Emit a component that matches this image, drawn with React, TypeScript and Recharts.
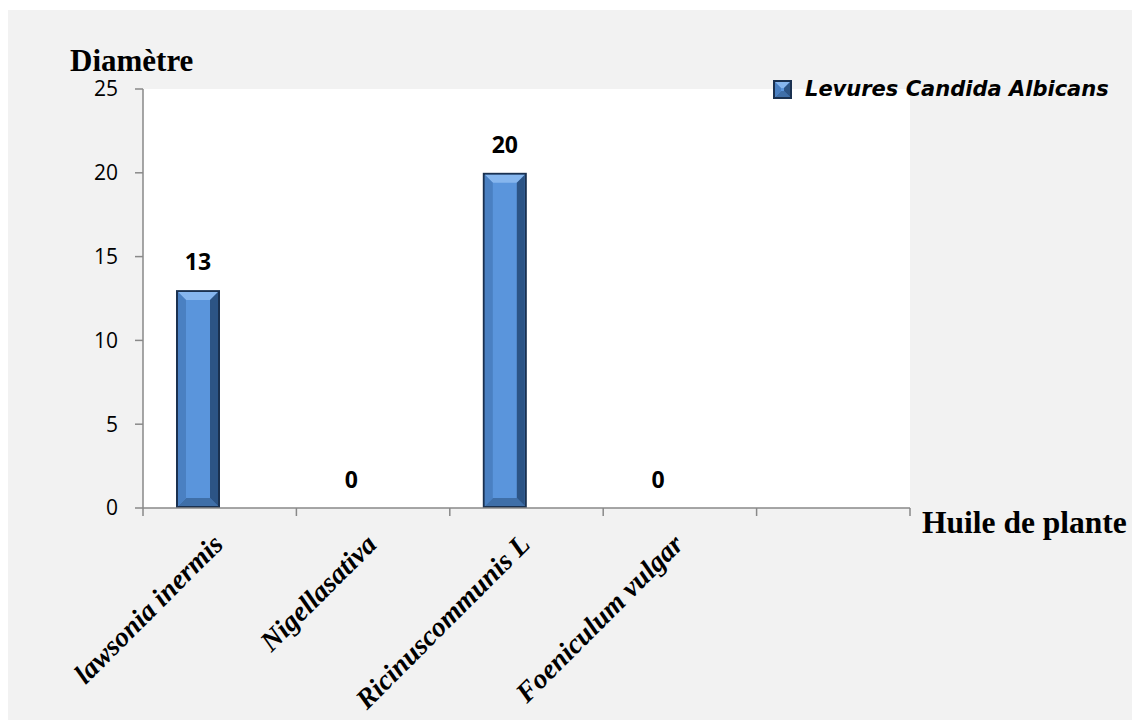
import React from 'react';
import { BarChart, Bar, XAxis, YAxis, CartesianGrid, LabelList } from 'recharts';

// Inhibition diameters measured for each plant oil
const categories = ['lawsonia inermis', 'Nigellasativa', 'Ricinuscommunis L', 'Foeniculum vulgar', ''];
const levuresValues: (number | null)[] = [13, 0, 20, 0, null];
const spareSeries: (number | null)[] = [null, null, null, null, null];
const yTicks = [0, 5, 10, 15, 20, 25];
const seriesName = 'Levures Candida Albicans';
const yTitle = 'Diamètre';
const xTitle = 'Huile de plante';

const data = categories.map((name, i) => ({
  name,
  levures: levuresValues[i],
  spare: spareSeries[i],
}));

const SERIF = "'Liberation Serif', 'Times New Roman', serif";
const SANS = "'Open Sans', 'Noto Sans', sans-serif";
const LEGEND_FONT = "'DejaVu Sans', 'Open Sans', sans-serif";
const AXIS_GRAY = '#898989';

// Beveled block: dark rim, lit top edge, shaded sides
function bevelBlock(x: number, y: number, w: number, h: number, b: number, key?: string) {
  const r = 2;
  const ix = x + r;
  const iy = y + r;
  const iw = Math.max(w - 2 * r, 0);
  const ih = Math.max(h - 2 * r, 0);
  const bb = Math.min(b, iw / 2, ih / 2);
  const p = (pts: number[][]) => pts.map((q) => q.join(',')).join(' ');
  return (
    <g key={key}>
      <rect x={x} y={y} width={w} height={h} fill="#1a3150" />
      <rect x={ix} y={iy} width={iw} height={ih} fill="#5a95dc" />
      <polygon
        points={p([[ix, iy], [ix + iw, iy], [ix + iw - bb, iy + bb], [ix + bb, iy + bb]])}
        fill="#86b6ee"
      />
      <polygon
        points={p([[ix, iy + ih], [ix + iw, iy + ih], [ix + iw - bb, iy + ih - bb], [ix + bb, iy + ih - bb]])}
        fill="#3f6fa8"
      />
      <polygon
        points={p([[ix, iy], [ix + bb, iy + bb], [ix + bb, iy + ih - bb], [ix, iy + ih]])}
        fill="#4a80c2"
      />
      <polygon
        points={p([[ix + iw, iy], [ix + iw - bb, iy + bb], [ix + iw - bb, iy + ih - bb], [ix + iw, iy + ih]])}
        fill="#2c5485"
      />
    </g>
  );
}

const BevelBar = (props: any) => {
  const { x, y, width, height } = props;
  if (height == null || height <= 0 || width <= 0) return <g />;
  return bevelBlock(x, y, width, height, 8);
};

const ValueLabel = (props: any) => {
  const { x, y, width, value } = props;
  if (value == null || x == null) return null;
  return (
    <text
      x={Number(x) + Number(width) / 2}
      y={Number(y) - 20}
      textAnchor="middle"
      fontFamily={SANS}
      fontWeight="bold"
      fontSize={23}
      fill="#000"
    >
      {value}
    </text>
  );
};

const CategoryTick = (props: any) => {
  const { x, y, payload, index } = props;
  const half = payload && payload.offset ? payload.offset : 76.7;
  const lx = x + 5;
  const ly = y + 38;
  return (
    <g>
      <line x1={x - half} y1={y} x2={x - half} y2={y + 8} stroke={AXIS_GRAY} strokeWidth={1.5} />
      {index === categories.length - 1 && (
        <line x1={x + half} y1={y} x2={x + half} y2={y + 8} stroke={AXIS_GRAY} strokeWidth={1.5} />
      )}
      <text
        x={lx}
        y={ly}
        transform={`rotate(-45, ${lx}, ${ly})`}
        textAnchor="end"
        fontFamily={SERIF}
        fontWeight="bold"
        fontStyle="italic"
        fontSize={28}
        fill="#000"
      >
        {payload.value}
      </text>
    </g>
  );
};

const YTitle = (props: any) => {
  const vb = props.viewBox || { x: 0, y: 79 };
  return (
    <text x={vb.x + 62} y={vb.y - 18} fontFamily={SERIF} fontWeight="bold" fontSize={31} fill="#000">
      {yTitle}
    </text>
  );
};

const XTitle = (props: any) => {
  const vb = props.viewBox || { x: 135, y: 498, width: 767 };
  return (
    <text
      x={vb.x + vb.width + 12}
      y={vb.y + 25}
      fontFamily={SERIF}
      fontWeight="bold"
      fontSize={31.5}
      fill="#000"
    >
      {xTitle}
    </text>
  );
};

const LegendBox = () => (
  <div
    style={{
      position: 'absolute',
      left: 765,
      top: 70,
      display: 'flex',
      alignItems: 'center',
      whiteSpace: 'nowrap',
    }}
  >
    <svg width={19} height={19} style={{ display: 'block' }}>
      {bevelBlock(0, 0, 19, 19, 6)}
    </svg>
    <span
      style={{
        marginLeft: 13,
        fontFamily: LEGEND_FONT,
        fontWeight: 'bold',
        fontStyle: 'italic',
        fontSize: 21,
        color: '#000',
        lineHeight: '19px',
      }}
    >
      {seriesName}
    </span>
  </div>
);

export default function App() {
  return (
    <div
      style={{
        position: 'fixed',
        left: 8,
        top: 10,
        width: 1124,
        height: 710,
        background: '#f2f2f2',
        overflow: 'hidden',
      }}
    >
      <BarChart
        width={1124}
        height={710}
        data={data}
        margin={{ top: 79, right: 222, bottom: 12, left: 0 }}
        barGap={0}
        barSize={44}
      >
        <CartesianGrid horizontal={false} vertical={false} fill="#ffffff" fillOpacity={1} />
        <XAxis
          dataKey="name"
          height={200}
          interval={0}
          tickLine={false}
          tickSize={0}
          tickMargin={0}
          axisLine={{ stroke: AXIS_GRAY, strokeWidth: 1.5 }}
          tick={<CategoryTick />}
          label={{ value: xTitle, content: <XTitle /> }}
        />
        <YAxis
          width={135}
          domain={[0, 25]}
          ticks={yTicks}
          interval={0}
          tickSize={8}
          tickMargin={17}
          axisLine={{ stroke: AXIS_GRAY, strokeWidth: 1.5 }}
          tickLine={{ stroke: AXIS_GRAY, strokeWidth: 1.5 }}
          tick={{ fill: '#000', fontFamily: SANS, fontSize: 21 }}
          label={{ value: yTitle, content: <YTitle /> }}
        />
        <Bar dataKey="levures" name={seriesName} shape={<BevelBar />} isAnimationActive={false}>
          <LabelList dataKey="levures" content={<ValueLabel />} />
        </Bar>
        <Bar dataKey="spare" name="" shape={<BevelBar />} isAnimationActive={false} legendType="none" />
      </BarChart>
      <LegendBox />
    </div>
  );
}
